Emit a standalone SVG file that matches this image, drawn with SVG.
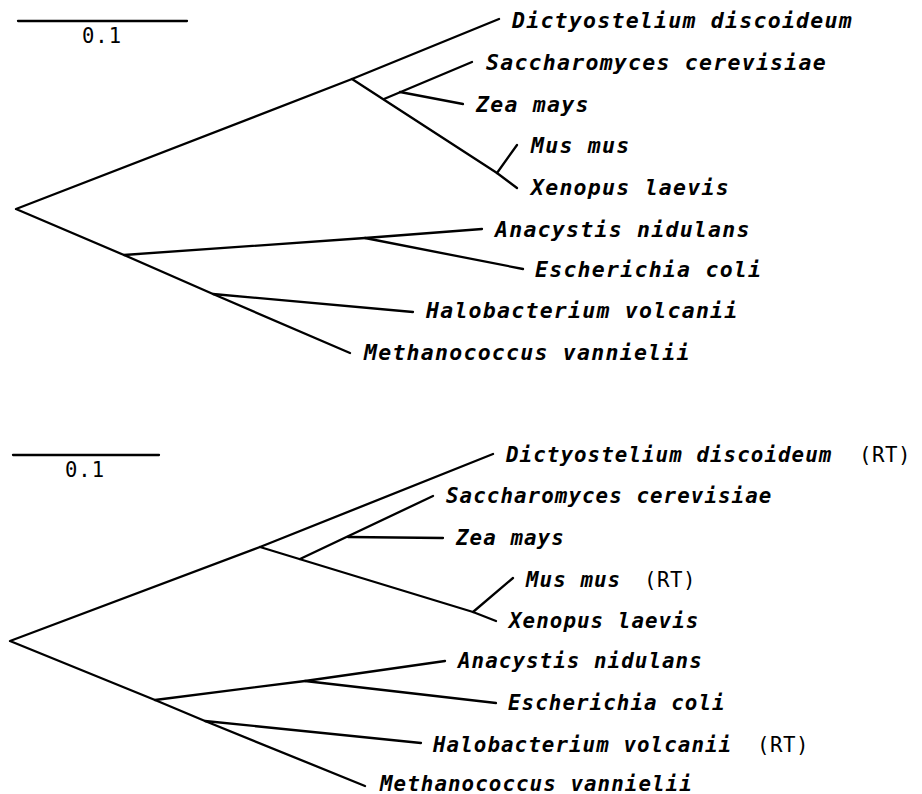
<svg xmlns="http://www.w3.org/2000/svg" width="922" height="794" viewBox="0 0 922 794">
<style>
.br{stroke:#000;stroke-width:2.3;fill:none;stroke-linecap:round;stroke-linejoin:round}
.sp{font-family:"DejaVu Sans Mono","Liberation Mono",monospace;font-style:italic;font-weight:bold;fill:#000}
.t1{font-size:21.5px;letter-spacing:1.26px}
.t2{font-size:20.8px;letter-spacing:1.08px}
.rt{font-style:normal;font-weight:normal;letter-spacing:0.5px}
.sc{font-family:"DejaVu Sans Mono","Liberation Mono",monospace;font-size:20.5px;letter-spacing:1px;fill:#000;text-anchor:middle}
</style>
<rect width="922" height="794" fill="#fff"/>
<g id="connectors">
<g id="tree1">
<line class="br" x1="18" y1="21" x2="187" y2="21"/>
<polyline class="br" points="499,19 352,79 16,209 124,255 213,294 350,353"/>
<polyline class="br" points="352,79 497,173 517,188"/>
<line class="br" x1="497" y1="173" x2="517" y2="145"/>
<line class="br" x1="384" y1="99" x2="472" y2="62"/>
<line class="br" x1="400" y1="92" x2="463" y2="104"/>
<polyline class="br" points="124,255 365,238 482,229"/>
<line class="br" x1="365" y1="238" x2="523" y2="269"/>
<line class="br" x1="213" y1="294" x2="413" y2="312"/>
</g>
<g id="tree2">
<line class="br" x1="13" y1="455" x2="159" y2="455"/>
<polyline class="br" points="493,454 260,547 10,641 155,700 205,721 365,786"/>
<polyline class="br" points="260,547 473,612 496,621"/>
<line class="br" x1="473" y1="612" x2="513" y2="578"/>
<line class="br" x1="300" y1="559" x2="433" y2="496"/>
<line class="br" x1="348" y1="537" x2="443" y2="538"/>
<polyline class="br" points="155,700 305,681 445,661"/>
<line class="br" x1="305" y1="681" x2="496" y2="703"/>
<line class="br" x1="205" y1="721" x2="421" y2="743"/>
</g>
</g>
<g id="scale1"><text class="sc" x="102" y="43">0.1</text></g>
<g id="scale2"><text class="sc" x="85" y="477">0.1</text></g>
<g id="top-labels" class="sp t1">
<text id="t1-dicty" x="512" y="28">Dictyostelium discoideum</text>
<text id="t1-sacch" x="486" y="70">Saccharomyces cerevisiae</text>
<text id="t1-zea" x="476" y="112">Zea mays</text>
<text id="t1-mus" x="531" y="153">Mus mus</text>
<text id="t1-xen" x="531" y="195">Xenopus laevis</text>
<text id="t1-ana" x="495" y="237">Anacystis nidulans</text>
<text id="t1-esch" x="535" y="277">Escherichia coli</text>
<text id="t1-halo" x="426" y="318">Halobacterium volcanii</text>
<text id="t1-meth" x="364" y="360">Methanococcus vannielii</text>
</g>
<g id="bottom-labels" class="sp t2">
<text id="t2-dicty" x="506" y="462">Dictyostelium discoideum<tspan class="rt" x="859">(RT)</tspan></text>
<text id="t2-sacch" x="446" y="503">Saccharomyces cerevisiae</text>
<text id="t2-zea" x="456" y="545">Zea mays</text>
<text id="t2-mus" x="526" y="587">Mus mus<tspan class="rt" x="644">(RT)</tspan></text>
<text id="t2-xen" x="509" y="628">Xenopus laevis</text>
<text id="t2-ana" x="458" y="668">Anacystis nidulans</text>
<text id="t2-esch" x="508" y="710">Escherichia coli</text>
<text id="t2-halo" x="433" y="752">Halobacterium volcanii<tspan class="rt" x="757">(RT)</tspan></text>
<text id="t2-meth" x="380" y="791">Methanococcus vannielii</text>
</g>
</svg>
